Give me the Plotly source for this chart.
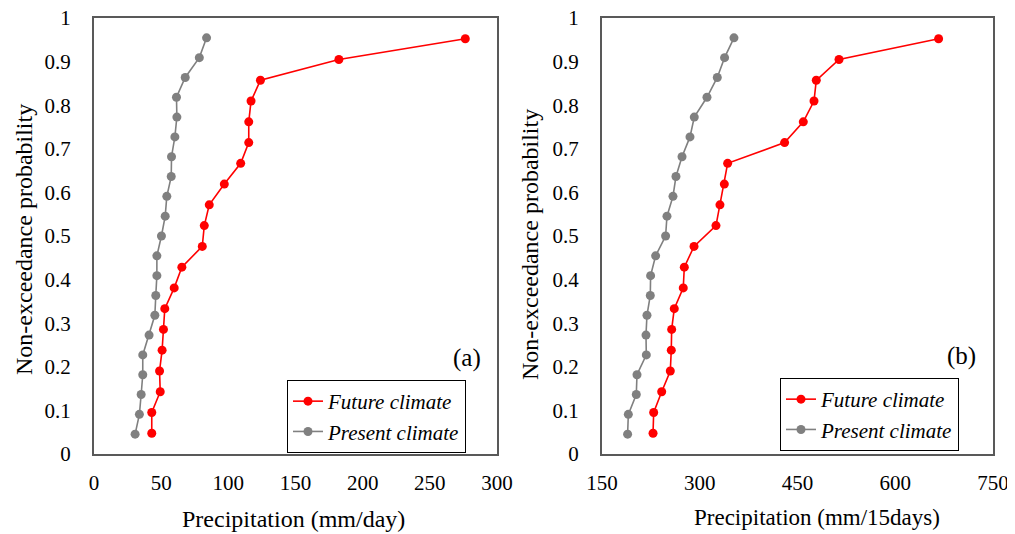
import plotly.graph_objects as go

# Panel (a): daily precipitation (mm/day)
future_a = [43.0, 43.0, 49.3, 48.8, 50.7, 51.7, 52.7, 59.7, 65.4, 80.6,
            82.1, 85.8, 97.0, 109.2, 115.2, 115.2, 116.9, 123.9, 182.3, 276.4]
present_a = [30.6, 33.8, 35.1, 36.3, 36.3, 41.0, 45.3, 46.0, 46.8, 46.8, 50.2,
             53.0, 54.2, 57.5, 57.7, 60.2, 61.7, 61.4, 67.9, 78.4, 83.8]

# Panel (b): 15-day precipitation (mm/15days)
future_b = [228.3, 229.3, 241.6, 254.8, 256.3, 256.9, 260.9, 274.7, 276.3, 291.2,
            324.9, 331.0, 337.7, 342.8, 430.2, 458.9, 475.3, 478.8, 513.7, 666.5]
present_b = [189.3, 190.4, 202.6, 203.7, 218.0, 217.5, 219.0, 224.1, 224.6, 232.3, 247.6,
             249.7, 258.9, 263.5, 272.8, 285.0, 291.6, 311.1, 326.9, 338.1, 352.5]

# Non-exceedance probabilities (Weibull plotting positions i/(n+1))
prob_future = [i / 21 for i in range(1, 21)]
prob_present = [i / 22 for i in range(1, 22)]

y_tickvals = [0, 0.1, 0.2, 0.3, 0.4, 0.5, 0.6, 0.7, 0.8, 0.9, 1]
y_ticktext = ["0", "0.1", "0.2", "0.3", "0.4", "0.5", "0.6", "0.7", "0.8", "0.9", "1"]
xa_ticks = [0, 50, 100, 150, 200, 250, 300]
xb_ticks = [150, 300, 450, 600, 750]

FONT = "Liberation Serif"
RED = "#FF0000"
GREY = "#808080"
FRAME = "#595959"

# the page body adds an 8px margin, so the figure is 16px smaller than the window
OFF = 8
W, H = 1015 - 2 * OFF, 534 - OFF


def fx(px):
    return (px - OFF) / W


def fy(py):
    return 1 - (py - OFF) / H


fig = go.Figure()

fig.add_trace(go.Scatter(x=future_a, y=prob_future, mode="lines+markers", name="Future climate",
                         line=dict(color=RED, width=1.6), marker=dict(color=RED, size=9),
                         xaxis="x", yaxis="y", legend="legend"))
fig.add_trace(go.Scatter(x=present_a, y=prob_present, mode="lines+markers", name="Present climate",
                         line=dict(color=GREY, width=1.6), marker=dict(color=GREY, size=9),
                         xaxis="x", yaxis="y", legend="legend"))
fig.add_trace(go.Scatter(x=future_b, y=prob_future, mode="lines+markers", name="Future climate",
                         line=dict(color=RED, width=1.6), marker=dict(color=RED, size=9),
                         xaxis="x2", yaxis="y2", legend="legend2"))
fig.add_trace(go.Scatter(x=present_b, y=prob_present, mode="lines+markers", name="Present climate",
                         line=dict(color=GREY, width=1.6), marker=dict(color=GREY, size=9),
                         xaxis="x2", yaxis="y2", legend="legend2"))

ydom = [fy(454), fy(18)]
axis_common = dict(showline=True, mirror=True, linecolor=FRAME, linewidth=2,
                   showgrid=False, zeroline=False, ticks="", automargin=False,
                   ticklabeloverflow="allow",
                   tickfont=dict(family=FONT, size=21, color="#000000"))

legend_common = dict(xanchor="left", yanchor="top",
                     bordercolor="#000000", borderwidth=1, bgcolor="white",
                     font=dict(family=FONT, size=21, style="italic", color="#000000"),
                     tracegroupgap=0, itemwidth=30, entrywidthmode="pixels", entrywidth=150)

ann_common = dict(xref="paper", yref="paper", showarrow=False, xanchor="center", yanchor="middle")

fig.update_layout(
    template="none",
    width=W, height=H,
    margin=dict(l=0, r=0, t=0, b=0, pad=0, autoexpand=False),
    paper_bgcolor="white", plot_bgcolor="white",
    font=dict(family=FONT, color="#000000"),
    xaxis=dict(domain=[fx(94), fx(497)], range=[0, 300], tickvals=xa_ticks,
               ticklabelstandoff=9, anchor="y", **axis_common),
    yaxis=dict(domain=ydom, range=[0, 1], tickvals=y_tickvals, ticktext=y_ticktext,
               ticklabelstandoff=17, anchor="x", **axis_common),
    xaxis2=dict(domain=[fx(602), fx(993)], range=[150, 750], tickvals=xb_ticks,
                ticklabelstandoff=9, anchor="y2", **axis_common),
    yaxis2=dict(domain=ydom, range=[0, 1], tickvals=y_tickvals, ticktext=y_ticktext,
                ticklabelstandoff=17, anchor="x2", **axis_common),
    legend=dict(x=fx(287), y=fy(380), **legend_common),
    legend2=dict(x=fx(780), y=fy(378), **legend_common),
    showlegend=True,
    annotations=[
        dict(text="(a)", x=fx(467), y=fy(358), font=dict(family=FONT, size=25), **ann_common),
        dict(text="(b)", x=fx(961), y=fy(356), font=dict(family=FONT, size=25), **ann_common),
        dict(text="Precipitation (mm/day)", x=fx(293), y=fy(519),
             font=dict(family=FONT, size=24), **ann_common),
        dict(text="Precipitation (mm/15days)", x=fx(817), y=fy(517),
             font=dict(family=FONT, size=23), **ann_common),
        dict(text="Non-exceedance probability", x=fx(24), y=fy(240), textangle=-90,
             font=dict(family=FONT, size=24), **ann_common),
        dict(text="Non-exceedance probability", x=fx(530), y=fy(245), textangle=-90,
             font=dict(family=FONT, size=24), **ann_common),
    ],
)

fig.write_html("out.html")
